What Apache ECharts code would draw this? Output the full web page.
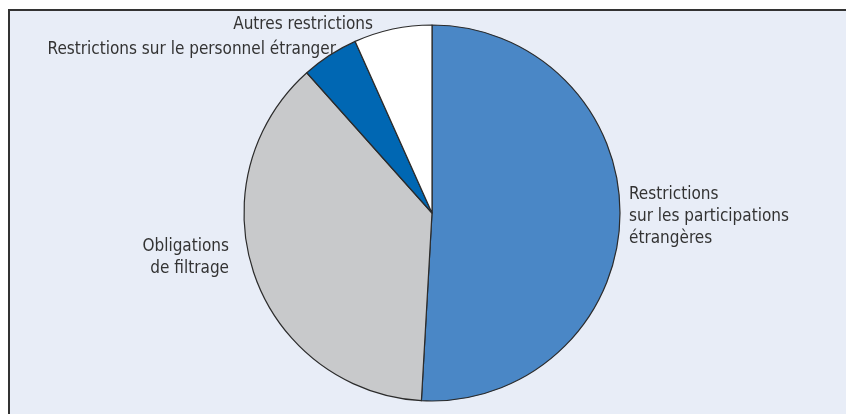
<!DOCTYPE html>
<html>
<head>
<meta charset="utf-8">
<script src="https://cdn.jsdelivr.net/npm/echarts@6/dist/echarts.min.js"></script>
<style>
html,body{margin:0;padding:0;background:#fff;overflow:hidden;}
#frame{position:absolute;left:8px;top:9px;width:850px;height:410px;background:#E8EDF7;border-left:2px solid #333;border-top:2px solid #333;box-sizing:border-box;}
#chart{position:absolute;left:0;top:0;width:846px;height:414px;}
</style>
</head>
<body>
<div id="frame"></div>
<div id="chart"></div>
<script>
const categories = [
  "Restrictions\nsur les participations\nétrangères",
  "Obligations\nde filtrage",
  "Restrictions sur le personnel étranger",
  "Autres restrictions"
];
const values = [50.9, 37.5, 4.9, 6.7];
const colors = ["#4A87C6", "#C8C9CB", "#0067B3", "#FFFFFF"];

const labelPos = [
  {x: 629, y: 217, align: "left"},
  {x: 229, y: 258, align: "right"},
  {x: 336, y: 50, align: "right"},
  {x: 373, y: 25, align: "right"}
];

const chart = echarts.init(document.getElementById("chart"), null, {renderer: "canvas"});
chart.setOption({
  backgroundColor: "transparent",
  animation: false,
  series: [{
    type: "pie",
    center: [432, 213],
    radius: 188,
    startAngle: 90,
    clockwise: true,
    avoidLabelOverlap: false,
    data: categories.map((c, i) => ({
      name: c,
      value: values[i],
      itemStyle: {color: colors[i]}
    })),
    itemStyle: {borderColor: "#2b2b2b", borderWidth: 1.2},
    label: {
      show: true,
      position: "outside",
      formatter: "{b}",
      fontFamily: "'DejaVu Sans Condensed', 'Roboto Condensed', Roboto, sans-serif",
      fontSize: 17,
      lineHeight: 22,
      color: "#333"
    },
    labelLine: {show: false},
    labelLayout: function (p) {
      const l = labelPos[p.dataIndex];
      return {x: l.x, y: l.y, align: l.align, verticalAlign: "middle", hideOverlap: false};
    },
    emphasis: {disabled: true}
  }]
});
</script>
</body>
</html>
